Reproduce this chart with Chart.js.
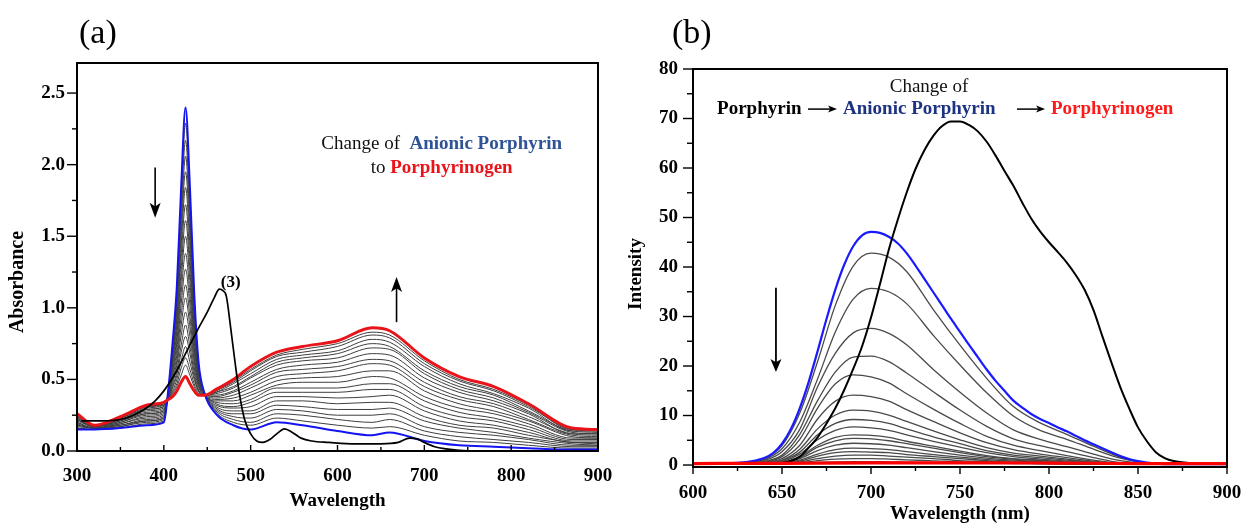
<!DOCTYPE html>
<html>
<head>
<meta charset="utf-8">
<script src="https://cdn.jsdelivr.net/npm/chart.js@4.4.1/dist/chart.umd.min.js"></script>
<style>
  body { margin: 0; background: #fff; width: 1242px; height: 524px; overflow: hidden; position: relative; font-family: "Liberation Serif", serif; }
  #wa { position: absolute; left: 0; top: 0; width: 620px; height: 524px; }
  #wb { position: absolute; left: 620px; top: 0; width: 622px; height: 524px; }
  .lab { position: absolute; font-size: 34px; line-height: 34px; color: #000; }
</style>
</head>
<body>
<div id="wa"><canvas id="ca"></canvas></div>
<div id="wb"><canvas id="cb"></canvas></div>
<div class="lab" style="left:79px;top:15px">(a)</div>
<div class="lab" style="left:672px;top:15px">(b)</div>
<script>
const FONT = '"Liberation Serif", "Times New Roman", serif';

// ---- panel (a): absorbance spectra ----
const absWl = [300, 320, 350, 380, 400, 405, 410, 415, 420, 425, 430, 435, 440, 447, 460, 480, 500, 530, 560, 600, 640, 660, 700, 740, 780, 820, 870, 900];
// anionic porphyrin (start, blue)
const absBlue = [0.15, 0.15, 0.16, 0.18, 0.20, 0.42, 0.75, 1.15, 1.85, 2.40, 1.85, 1.10, 0.62, 0.40, 0.26, 0.18, 0.15, 0.20, 0.18, 0.14, 0.11, 0.13, 0.07, 0.04, 0.03, 0.02, 0.01, 0.01];
// porphyrinogen (end, red)
const absRed = [0.26, 0.18, 0.24, 0.32, 0.34, 0.36, 0.38, 0.42, 0.48, 0.52, 0.47, 0.42, 0.39, 0.39, 0.43, 0.50, 0.59, 0.69, 0.73, 0.77, 0.86, 0.84, 0.65, 0.52, 0.45, 0.33, 0.16, 0.15];
// intermediate scans (grey)
const absGray = [
  [0.16, 0.15, 0.16, 0.19, 0.21, 0.42, 0.73, 1.11, 1.77, 2.29, 1.77, 1.06, 0.61, 0.40, 0.27, 0.20, 0.18, 0.23, 0.21, 0.18, 0.16, 0.17, 0.11, 0.07, 0.06, 0.04, 0.02, 0.02],
  [0.16, 0.15, 0.17, 0.20, 0.22, 0.41, 0.71, 1.06, 1.69, 2.17, 1.68, 1.02, 0.59, 0.40, 0.28, 0.22, 0.20, 0.26, 0.25, 0.22, 0.20, 0.22, 0.14, 0.10, 0.08, 0.06, 0.03, 0.03],
  [0.17, 0.16, 0.17, 0.21, 0.23, 0.41, 0.68, 1.02, 1.60, 2.06, 1.60, 0.98, 0.58, 0.40, 0.29, 0.24, 0.23, 0.29, 0.28, 0.25, 0.25, 0.26, 0.17, 0.13, 0.11, 0.08, 0.04, 0.04],
  [0.18, 0.16, 0.18, 0.21, 0.23, 0.41, 0.66, 0.98, 1.52, 1.95, 1.52, 0.94, 0.57, 0.40, 0.30, 0.26, 0.26, 0.32, 0.31, 0.29, 0.29, 0.30, 0.21, 0.16, 0.13, 0.09, 0.05, 0.04],
  [0.18, 0.16, 0.18, 0.22, 0.24, 0.40, 0.64, 0.93, 1.44, 1.84, 1.44, 0.90, 0.55, 0.40, 0.31, 0.28, 0.28, 0.35, 0.35, 0.33, 0.34, 0.34, 0.24, 0.18, 0.16, 0.11, 0.06, 0.05],
  [0.19, 0.16, 0.19, 0.23, 0.25, 0.40, 0.62, 0.89, 1.36, 1.72, 1.35, 0.86, 0.54, 0.40, 0.32, 0.30, 0.31, 0.38, 0.38, 0.37, 0.38, 0.39, 0.28, 0.21, 0.18, 0.13, 0.06, 0.06],
  [0.20, 0.16, 0.19, 0.24, 0.26, 0.40, 0.60, 0.84, 1.27, 1.61, 1.27, 0.81, 0.52, 0.40, 0.33, 0.31, 0.34, 0.41, 0.41, 0.41, 0.43, 0.43, 0.31, 0.24, 0.21, 0.15, 0.07, 0.07],
  [0.20, 0.16, 0.20, 0.25, 0.27, 0.39, 0.57, 0.80, 1.19, 1.50, 1.19, 0.77, 0.51, 0.40, 0.34, 0.33, 0.36, 0.44, 0.44, 0.44, 0.47, 0.47, 0.35, 0.27, 0.23, 0.17, 0.08, 0.08],
  [0.21, 0.17, 0.20, 0.26, 0.28, 0.39, 0.55, 0.76, 1.11, 1.38, 1.10, 0.73, 0.50, 0.39, 0.35, 0.35, 0.39, 0.46, 0.48, 0.48, 0.52, 0.51, 0.38, 0.30, 0.26, 0.19, 0.09, 0.09],
  [0.22, 0.17, 0.21, 0.26, 0.28, 0.38, 0.53, 0.71, 1.03, 1.27, 1.02, 0.69, 0.48, 0.39, 0.36, 0.37, 0.41, 0.49, 0.51, 0.52, 0.56, 0.56, 0.42, 0.33, 0.28, 0.21, 0.10, 0.09],
  [0.22, 0.17, 0.21, 0.27, 0.29, 0.38, 0.51, 0.67, 0.95, 1.16, 0.94, 0.65, 0.47, 0.39, 0.37, 0.39, 0.44, 0.52, 0.54, 0.56, 0.61, 0.60, 0.45, 0.36, 0.31, 0.22, 0.11, 0.10],
  [0.23, 0.17, 0.22, 0.28, 0.30, 0.38, 0.49, 0.63, 0.88, 1.07, 0.87, 0.62, 0.46, 0.39, 0.38, 0.41, 0.46, 0.55, 0.57, 0.59, 0.64, 0.63, 0.48, 0.38, 0.33, 0.24, 0.12, 0.11],
  [0.23, 0.17, 0.22, 0.29, 0.31, 0.37, 0.47, 0.60, 0.81, 0.97, 0.80, 0.58, 0.45, 0.39, 0.39, 0.42, 0.48, 0.57, 0.60, 0.62, 0.68, 0.67, 0.51, 0.41, 0.35, 0.26, 0.12, 0.12],
  [0.24, 0.17, 0.23, 0.29, 0.31, 0.37, 0.45, 0.56, 0.74, 0.88, 0.73, 0.55, 0.43, 0.39, 0.40, 0.44, 0.51, 0.60, 0.63, 0.65, 0.72, 0.71, 0.54, 0.43, 0.37, 0.27, 0.13, 0.12],
  [0.24, 0.18, 0.23, 0.30, 0.32, 0.37, 0.44, 0.53, 0.69, 0.80, 0.68, 0.52, 0.42, 0.39, 0.41, 0.45, 0.52, 0.62, 0.65, 0.68, 0.75, 0.73, 0.56, 0.45, 0.39, 0.28, 0.14, 0.13],
  [0.25, 0.18, 0.23, 0.31, 0.32, 0.37, 0.42, 0.50, 0.63, 0.73, 0.62, 0.50, 0.42, 0.39, 0.41, 0.47, 0.54, 0.64, 0.67, 0.70, 0.78, 0.76, 0.59, 0.47, 0.40, 0.30, 0.14, 0.14],
  [0.25, 0.18, 0.23, 0.31, 0.33, 0.36, 0.41, 0.47, 0.58, 0.65, 0.57, 0.47, 0.41, 0.39, 0.42, 0.48, 0.56, 0.66, 0.69, 0.73, 0.81, 0.79, 0.61, 0.49, 0.42, 0.31, 0.15, 0.14],
  [0.26, 0.18, 0.24, 0.31, 0.33, 0.36, 0.40, 0.45, 0.53, 0.60, 0.53, 0.45, 0.40, 0.39, 0.42, 0.49, 0.57, 0.67, 0.71, 0.75, 0.83, 0.81, 0.63, 0.50, 0.43, 0.32, 0.15, 0.15]
];
// compound (3), black
const c3Wl = [305, 330, 350, 365, 380, 390, 400, 410, 420, 430, 441, 450, 458, 464, 468, 472, 477, 482, 487, 493, 500, 507, 514, 522, 530, 539, 548, 558, 570, 590, 620, 650, 670, 683, 692, 700, 712, 725, 740, 760, 800, 900];
const c3Abs = [0.21, 0.21, 0.22, 0.25, 0.30, 0.35, 0.42, 0.51, 0.62, 0.74, 0.87, 0.97, 1.07, 1.13, 1.12, 1.08, 0.86, 0.62, 0.40, 0.22, 0.12, 0.07, 0.06, 0.08, 0.12, 0.155, 0.13, 0.09, 0.07, 0.06, 0.05, 0.05, 0.06, 0.09, 0.085, 0.06, 0.03, 0.015, 0.005, 0, 0, 0];

// ---- panel (b): emission spectra ----
const emBlueWl = [600, 620, 630, 635, 640, 645, 650, 655, 660, 665, 670, 675, 680, 685, 690, 695, 700, 705, 710, 715, 720, 725, 730, 735, 740, 745, 750, 755, 760, 765, 770, 775, 780, 785, 790, 795, 800, 805, 810, 815, 820, 825, 830, 835, 840, 845, 850, 855, 860, 870, 900];
const emBlue = [0.3, 0.35, 0.6, 0.9, 1.4, 2.4, 4.3, 7.3, 11.5, 16.8, 23.0, 29.5, 35.5, 40.5, 44.2, 46.4, 47.1, 46.9, 46.1, 44.8, 42.8, 40.3, 37.6, 34.9, 32.2, 29.5, 26.9, 24.3, 21.8, 19.3, 17.0, 15.0, 13.0, 11.6, 10.3, 9.3, 8.5, 7.6, 6.8, 5.9, 5.0, 4.2, 3.4, 2.6, 1.8, 1.2, 0.8, 0.5, 0.3, 0.2, 0.2];
const emBlackWl = [650, 655, 660, 665, 670, 675, 680, 685, 690, 695, 700, 705, 710, 715, 720, 725, 730, 735, 740, 745, 750, 755, 760, 765, 770, 775, 780, 785, 790, 795, 800, 805, 810, 815, 820, 825, 830, 835, 840, 845, 850, 855, 860, 865, 870, 880, 900];
const emBlack = [0.4, 0.8, 1.7, 3.5, 5.6, 8.4, 11.5, 15.2, 19.4, 24.0, 29.8, 36.5, 43.5, 49.5, 55.0, 59.8, 63.6, 66.5, 68.5, 69.4, 69.4, 68.7, 67.4, 65.3, 62.5, 59.4, 56.4, 53.0, 49.8, 47.2, 45.0, 43.0, 40.9, 38.4, 35.4, 31.3, 26.0, 20.8, 15.8, 11.5, 7.6, 4.8, 2.6, 1.4, 0.8, 0.4, 0.2];
const emRedWl = [600, 650, 700, 750, 800, 850, 900];
const emRed = [0.3, 0.35, 0.45, 0.45, 0.4, 0.3, 0.3];
const emGrayWl = [600, 630, 640, 650, 660, 670, 680, 690, 700, 710, 720, 735, 750, 765, 780, 795, 810, 825, 840, 855, 870, 900];
const emGray = [
  [0.3, 0.55, 1.27, 3.9, 10.5, 20.9, 32.3, 40.2, 42.8, 42.0, 39.1, 31.4, 24.2, 17.5, 11.8, 8.5, 6.2, 3.8, 1.6, 0.45, 0.2, 0.2],
  [0.3, 0.5, 1.1, 3.3, 8.7, 17.4, 26.9, 33.5, 35.7, 35.0, 32.6, 26.2, 20.2, 14.6, 9.9, 7.0, 5.2, 3.2, 1.4, 0.4, 0.2, 0.2],
  [0.3, 0.4, 0.9, 2.7, 7.2, 15.8, 22.6, 26.7, 27.6, 26.6, 24.3, 19.3, 14.7, 10.5, 7.1, 5.2, 3.7, 2.2, 0.9, 0.3, 0.2, 0.2],
  [0.3, 0.4, 0.7, 2.0, 6.2, 13.0, 18.8, 21.8, 22.0, 20.9, 18.6, 14.8, 11.1, 7.8, 5.3, 3.9, 2.7, 1.5, 0.5, 0.3, 0.2, 0.2],
  [0.3, 0.4, 0.6, 1.7, 5.2, 11.5, 16.4, 18.2, 17.8, 16.6, 14.4, 11.3, 8.4, 5.8, 4.0, 2.9, 1.9, 1.0, 0.3, 0.2, 0.2, 0.2],
  [0.3, 0.35, 0.5, 1.3, 4.0, 9.3, 12.9, 14.1, 13.8, 12.9, 11.2, 8.8, 6.5, 4.5, 3.1, 2.2, 1.5, 0.8, 0.3, 0.2, 0.2, 0.2],
  [0.3, 0.35, 0.4, 1.0, 3.2, 7.3, 10.1, 11.1, 10.9, 10.1, 8.8, 6.9, 5.1, 3.5, 2.4, 1.8, 1.2, 0.6, 0.2, 0.2, 0.2, 0.2],
  [0.3, 0.3, 0.35, 0.9, 2.6, 6.1, 8.4, 9.2, 9.0, 8.4, 7.3, 5.7, 4.3, 2.9, 2.0, 1.5, 1.0, 0.5, 0.2, 0.2, 0.2, 0.2],
  [0.3, 0.3, 0.3, 0.7, 2.2, 5.1, 7.0, 7.7, 7.5, 7.0, 6.1, 4.8, 3.6, 2.5, 1.7, 1.2, 0.8, 0.4, 0.2, 0.2, 0.2, 0.2],
  [0.3, 0.3, 0.3, 0.6, 1.7, 4.0, 5.6, 6.1, 6.0, 5.6, 4.8, 3.8, 2.8, 1.9, 1.3, 1.0, 0.6, 0.3, 0.2, 0.2, 0.2, 0.2],
  [0.3, 0.3, 0.3, 0.5, 1.5, 3.6, 4.9, 5.4, 5.3, 4.9, 4.3, 3.4, 2.5, 1.7, 1.2, 0.9, 0.6, 0.3, 0.2, 0.2, 0.2, 0.2],
  [0.3, 0.3, 0.3, 0.4, 1.3, 2.9, 4.0, 4.4, 4.3, 4.0, 3.5, 2.7, 2.0, 1.4, 1.0, 0.7, 0.5, 0.3, 0.2, 0.2, 0.2, 0.2],
  [0.3, 0.3, 0.3, 0.4, 1.0, 2.2, 3.1, 3.4, 3.3, 3.1, 2.7, 2.1, 1.6, 1.1, 0.8, 0.6, 0.4, 0.25, 0.2, 0.2, 0.2, 0.2],
  [0.3, 0.3, 0.3, 0.35, 0.8, 1.8, 2.5, 2.7, 2.6, 2.5, 2.1, 1.7, 1.3, 0.9, 0.6, 0.45, 0.3, 0.2, 0.2, 0.2, 0.2, 0.2],
  [0.3, 0.3, 0.3, 0.3, 0.6, 1.3, 1.8, 2.0, 2.0, 1.8, 1.6, 1.3, 0.9, 0.7, 0.5, 0.35, 0.25, 0.2, 0.2, 0.2, 0.2, 0.2],
  [0.3, 0.3, 0.3, 0.3, 0.45, 0.9, 1.2, 1.3, 1.3, 1.2, 1.05, 0.85, 0.65, 0.5, 0.4, 0.3, 0.25, 0.2, 0.2, 0.2, 0.2, 0.2],
  [0.3, 0.3, 0.3, 0.3, 0.35, 0.55, 0.65, 0.7, 0.7, 0.65, 0.6, 0.5, 0.42, 0.35, 0.3, 0.25, 0.2, 0.2, 0.2, 0.2, 0.2, 0.2]
];

function line(ys, xs, color, width) {
  return {
    data: xs.map((x, i) => ({ x, y: ys[i] })),
    borderColor: color,
    borderWidth: width,
    pointRadius: 0,
    fill: false,
    cubicInterpolationMode: 'monotone'
  };
}

// box round the plot plus major/minor tick marks
const frameTicks = {
  id: 'frameTicks',
  afterDatasetsDraw(chart, args, o) {
    const { ctx, chartArea: a, scales: { x, y } } = chart;
    ctx.save();
    ctx.strokeStyle = '#000';
    ctx.lineWidth = 2;
    ctx.strokeRect(a.left, a.top, a.right - a.left, a.bottom - a.top);
    ctx.lineWidth = 1.4;
    const isMajor = (v, m) => Math.abs(v / m - Math.round(v / m)) < 1e-6;
    for (let v = o.x.from; v <= o.x.to + 1e-6; v += o.x.minor) {
      const px = x.getPixelForValue(v);
      const len = isMajor(v, o.x.major) ? o.x.len[0] : o.x.len[1];
      ctx.beginPath();
      ctx.moveTo(px, a.bottom);
      ctx.lineTo(px, a.bottom + o.x.dir * len);
      ctx.stroke();
    }
    for (let v = o.y.from; v <= o.y.to + 1e-6; v += o.y.minor) {
      const py = y.getPixelForValue(v);
      const len = isMajor(v, o.y.major) ? o.y.len[0] : o.y.len[1];
      ctx.beginPath();
      ctx.moveTo(a.left, py);
      ctx.lineTo(a.left - len, py);
      ctx.stroke();
    }
    ctx.restore();
  }
};

function arrow(ctx, x0, y0, x1, y1, hl, hw, lw) {
  const dx = x1 - x0, dy = y1 - y0, d = Math.hypot(dx, dy);
  const ux = dx / d, uy = dy / d;
  ctx.lineWidth = lw;
  ctx.beginPath();
  ctx.moveTo(x0, y0);
  ctx.lineTo(x1 - ux * hl * 0.6, y1 - uy * hl * 0.6);
  ctx.stroke();
  ctx.beginPath();
  ctx.moveTo(x1, y1);
  ctx.lineTo(x1 - ux * hl - uy * hw, y1 - uy * hl + ux * hw);
  ctx.lineTo(x1 - ux * hl * 0.75, y1 - uy * hl * 0.75);
  ctx.lineTo(x1 - ux * hl + uy * hw, y1 - uy * hl - ux * hw);
  ctx.closePath();
  ctx.fill();
}

// axis titles, annotations and arrows
const notes = {
  id: 'notes',
  afterDraw(chart, args, o) {
    const { ctx, scales: { x, y } } = chart;
    ctx.save();
    ctx.fillStyle = '#000';
    ctx.strokeStyle = '#000';
    o.titles.forEach(t => {
      ctx.save();
      ctx.font = `bold ${t.size}px ${FONT}`;
      ctx.textAlign = 'center';
      ctx.textBaseline = 'middle';
      ctx.translate(t.px, t.py);
      if (t.rot) ctx.rotate(-Math.PI / 2);
      ctx.fillText(t.text, 0, 0);
      ctx.restore();
    });
    o.texts.forEach(t => {
      let px = x.getPixelForValue(t.x);
      const py = y.getPixelForValue(t.y);
      const parts = t.parts.map(([s, w, c]) => {
        ctx.font = `${w} ${t.size}px ${FONT}`;
        return { s, w, c, len: ctx.measureText(s).width };
      });
      const total = parts.reduce((acc, p) => acc + p.len, 0);
      if (t.align === 'center') px -= total / 2;
      ctx.textAlign = 'left';
      ctx.textBaseline = 'alphabetic';
      parts.forEach(p => {
        ctx.font = `${p.w} ${t.size}px ${FONT}`;
        ctx.fillStyle = p.c;
        ctx.fillText(p.s, px, py);
        px += p.len;
      });
    });
    ctx.fillStyle = '#000';
    o.arrows.forEach(a => {
      arrow(ctx, x.getPixelForValue(a.x0), y.getPixelForValue(a.y0),
        x.getPixelForValue(a.x1), y.getPixelForValue(a.y1), a.hl, a.hw, a.lw);
    });
    ctx.restore();
  }
};

const tickFont = { family: FONT, size: 19, weight: 'bold' };
const noGrid = { display: false, drawTicks: false };

new Chart(document.getElementById('ca'), {
  type: 'line',
  data: {
    datasets: [
      line(c3Abs, c3Wl, '#000000', 1.7),
      line(absRed, absWl, '#e8141a', 3),
      line(absBlue, absWl, '#1414f0', 2),
      ...absGray.map(g => line(g, absWl, '#3e3e3e', 1))
    ]
  },
  options: {
    responsive: true,
    maintainAspectRatio: false,
    animation: false,
    layout: { padding: { left: 0, top: 63, right: 22, bottom: 0 } },
    plugins: {
      legend: { display: false },
      tooltip: { enabled: false },
      frameTicks: {
        x: { from: 300, to: 900, minor: 50, major: 100, len: [6, 4], dir: -1 },
        y: { from: 0, to: 2.7, minor: 0.25, major: 0.5, len: [10, 5] }
      },
      notes: {
        titles: [
          { text: 'Wavelength', px: 337.5, py: 501, size: 19 },
          { text: 'Absorbance', px: 18, py: 282, size: 20, rot: true }
        ],
        texts: [
          { x: 720, y: 2.109, size: 19, align: 'center',
            parts: [['Change of  ', 'normal', '#111'], ['Anionic Porphyrin', 'bold', '#2f5496']] },
          { x: 720, y: 1.94, size: 19, align: 'center',
            parts: [['to ', 'normal', '#111'], ['Porphyrinogen', 'bold', '#e8141a']] },
          { x: 477, y: 1.145, size: 17, align: 'center', parts: [['(3)', 'bold', '#000']] }
        ],
        arrows: [
          { x0: 390, y0: 1.98, x1: 390, y1: 1.63, hl: 15, hw: 5.5, lw: 1.6 },
          { x0: 668, y0: 0.90, x1: 668, y1: 1.215, hl: 15, hw: 5.5, lw: 1.6 }
        ]
      }
    },
    scales: {
      x: {
        type: 'linear', min: 300, max: 900,
        afterFit: s => { s.height = 73; s.paddingLeft = 0; s.paddingRight = 0; },
        ticks: { stepSize: 100, padding: 14, color: '#000', font: tickFont, maxRotation: 0, autoSkip: false },
        grid: noGrid,
        border: { display: false }
      },
      y: {
        min: 0, max: 2.71,
        afterFit: s => { s.width = 77; },
        ticks: { stepSize: 0.5, includeBounds: false, padding: 12, color: '#000', font: tickFont, callback: v => v.toFixed(1) },
        grid: noGrid,
        border: { display: false }
      }
    }
  },
  plugins: [frameTicks, notes]
});

new Chart(document.getElementById('cb'), {
  type: 'line',
  data: {
    datasets: [
      line(emRed, emRedWl, '#ff0000', 3.2),
      line(emBlack, emBlackWl, '#000000', 2),
      line(emBlue, emBlueWl, '#1a1aff', 2.2),
      ...emGray.map(g => line(g, emGrayWl, '#4a4a4a', 1.3))
    ]
  },
  options: {
    responsive: true,
    maintainAspectRatio: false,
    animation: false,
    layout: { padding: { left: 0, top: 69, right: 15, bottom: 0 } },
    plugins: {
      legend: { display: false },
      tooltip: { enabled: false },
      frameTicks: {
        x: { from: 600, to: 900, minor: 25, major: 50, len: [7, 4], dir: 1 },
        y: { from: 0, to: 80, minor: 5, major: 10, len: [10, 6] }
      },
      notes: {
        titles: [
          { text: 'Wavelength (nm)', px: 340, py: 514, size: 19 },
          { text: 'Intensity', px: 16, py: 274, size: 19, rot: true }
        ],
        texts: [
          { x: 732.6, y: 75.4, size: 19, align: 'center', parts: [['Change of', 'normal', '#111']] },
          { x: 613.5, y: 70.9, size: 19, parts: [['Porphyrin', 'bold', '#000']] },
          { x: 684.3, y: 70.9, size: 19, parts: [['Anionic Porphyrin', 'bold', '#1c3384']] },
          { x: 801.1, y: 70.9, size: 19, parts: [['Porphyrinogen', 'bold', '#ff1a1a']] }
        ],
        arrows: [
          { x0: 646.6, y0: 35.8, x1: 646.6, y1: 18.8, hl: 13, hw: 5.5, lw: 1.8 },
          { x0: 664.6, y0: 71.9, x1: 680.9, y1: 71.9, hl: 9, hw: 3.5, lw: 1.5 },
          { x0: 782.0, y0: 71.9, x1: 797.8, y1: 71.9, hl: 9, hw: 3.5, lw: 1.5 }
        ]
      }
    },
    scales: {
      x: {
        type: 'linear', min: 600, max: 900,
        afterFit: s => { s.height = 57; s.paddingLeft = 0; s.paddingRight = 0; },
        ticks: { stepSize: 50, padding: 15, color: '#000', font: tickFont, maxRotation: 0, autoSkip: false },
        grid: noGrid,
        border: { display: false }
      },
      y: {
        min: -0.4, max: 80,
        afterFit: s => { s.width = 73; },
        ticks: { stepSize: 10, includeBounds: false, padding: 15, color: '#000', font: tickFont },
        grid: noGrid,
        border: { display: false }
      }
    }
  },
  plugins: [frameTicks, notes]
});
</script>
</body>
</html>
